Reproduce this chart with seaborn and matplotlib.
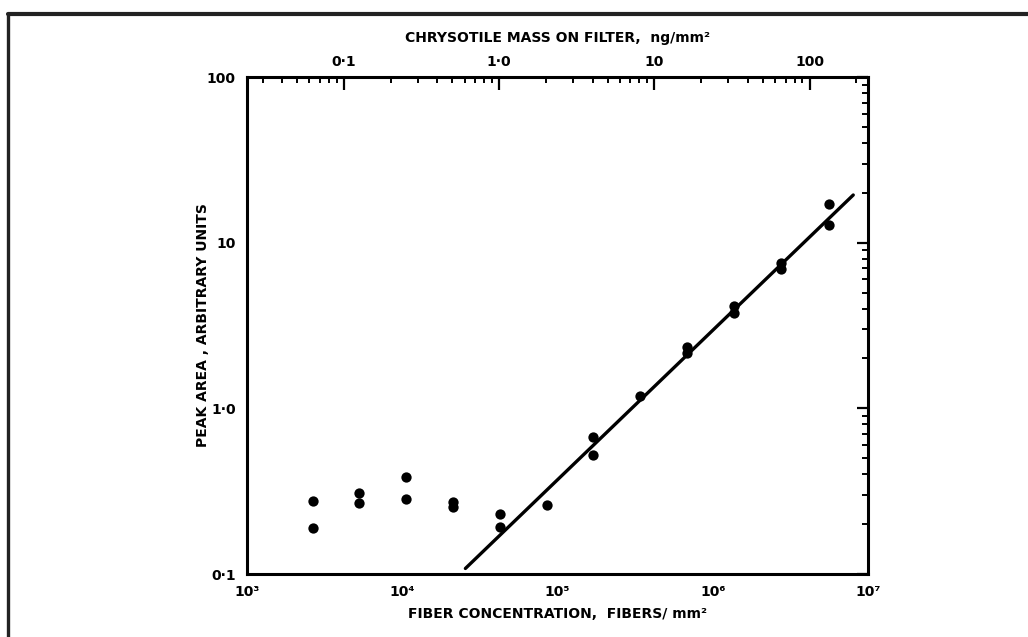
import numpy as np
import pandas as pd
import matplotlib
matplotlib.use("Agg")
import matplotlib.pyplot as plt
import matplotlib.ticker as mticker
from matplotlib.lines import Line2D
import seaborn as sns

# --- Dados ---
fiber_conc = [2650, 2650, 5300, 5300, 10600, 10600, 21200, 21200, 42500, 42500,
              85000, 170000, 170000, 340000, 680000, 680000, 1370000, 1370000,
              2750000, 2750000, 5600000, 5600000]
peak_area = [0.277, 0.189, 0.31, 0.267, 0.386, 0.282, 0.273, 0.253, 0.229, 0.193,
             0.26, 0.668, 0.523, 1.19, 2.36, 2.15, 4.14, 3.74,
             7.5, 6.9, 17.0, 12.8]
fit_x = [25500, 8030000]
fit_y = [0.108, 19.4]
fibers_per_ng = 4.2e4  # conversao fibras/mm2 -> ng/mm2 (eixo superior)

x_ticks = [1e3, 1e4, 1e5, 1e6, 1e7]
x_ticklabels = ["10³", "10⁴", "10⁵", "10⁶", "10⁷"]
y_ticks = [0.1, 1, 10, 100]
y_ticklabels = ["0·1", "1·0", "10", "100"]
top_ticks = [0.1, 1, 10, 100]
top_ticklabels = ["0·1", "1·0", "10", "100"]

df_pts = pd.DataFrame({"fibers": fiber_conc, "area": peak_area})
df_fit = pd.DataFrame({"fibers": fit_x, "area": fit_y})

sns.set_style("white")
plt.rcParams['font.family'] = ['DejaVu Sans']
plt.rcParams['font.weight'] = 'bold'
plt.rcParams['text.color'] = 'black'
plt.rcParams['axes.labelcolor'] = 'black'
plt.rcParams['xtick.color'] = 'black'
plt.rcParams['ytick.color'] = 'black'

fig = plt.figure(figsize=(10.28, 6.37), dpi=100)
ax = fig.add_axes([0.2403, 0.0989, 0.6041, 0.7802])

sns.lineplot(data=df_fit, x="fibers", y="area", ax=ax, color="black", linewidth=2.4)
sns.scatterplot(data=df_pts, x="fibers", y="area", ax=ax, color="black", s=55,
                edgecolor="black", linewidth=0)

ax.set_xscale("log")
ax.set_yscale("log")
ax.set_xlim(1e3, 1e7)
ax.set_ylim(0.1, 100)

ax.set_xticks(x_ticks)
ax.set_xticklabels(x_ticklabels)
ax.set_yticks(y_ticks)
ax.set_yticklabels(y_ticklabels)
ax.xaxis.set_minor_locator(mticker.LogLocator(base=10, subs=np.arange(2, 10)))
ax.yaxis.set_minor_locator(mticker.LogLocator(base=10, subs=np.arange(2, 10)))
ax.xaxis.set_minor_formatter(mticker.NullFormatter())
ax.yaxis.set_minor_formatter(mticker.NullFormatter())

ax.tick_params(which="major", direction="in", length=8, width=1.6, labelsize=10,
               top=False, right=True, pad=8)
ax.tick_params(which="minor", direction="in", length=4, width=1.4,
               top=False, right=True)

for s in ax.spines.values():
    s.set_linewidth(2.2)
    s.set_color("black")

ax.set_xlabel("FIBER CONCENTRATION,  FIBERS/ mm²", fontsize=10, fontweight="bold", labelpad=6)
ax.set_ylabel("PEAK AREA , ARBITRARY UNITS", fontsize=10, fontweight="bold", labelpad=-2)

# eixo superior: massa de crisotila
top = ax.secondary_xaxis("top", functions=(lambda x: x / fibers_per_ng,
                                           lambda m: m * fibers_per_ng))
top.set_xscale("log")
top.set_xticks(top_ticks)
top.set_xticklabels(top_ticklabels)
top.xaxis.set_minor_locator(mticker.LogLocator(base=10, subs=np.arange(2, 10)))
top.xaxis.set_minor_formatter(mticker.NullFormatter())
top.tick_params(which="major", direction="in", length=9, width=1.6, labelsize=10, pad=6)
top.tick_params(which="minor", direction="in", length=4, width=1.4)
top.set_xlabel("CHRYSOTILE MASS ON FILTER,  ng/mm²", fontsize=10, fontweight="bold", labelpad=9)

for lab in ax.get_xticklabels() + ax.get_yticklabels() + top.get_xticklabels():
    lab.set_fontweight("bold")

# moldura da figura digitalizada
fig.add_artist(Line2D([8 / 1028, 1.0], [1 - 14 / 637, 1 - 14 / 637],
                      transform=fig.transFigure, color="#222222", linewidth=3))
fig.add_artist(Line2D([8 / 1028, 8 / 1028], [0.0, 1 - 14 / 637],
                      transform=fig.transFigure, color="#222222", linewidth=2.4))

fig.savefig("out.png", dpi=100)
